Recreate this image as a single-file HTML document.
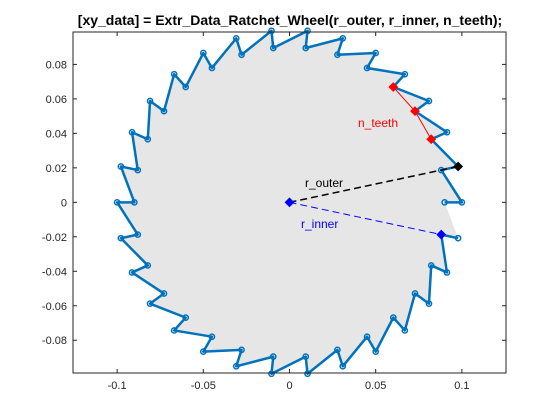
<!DOCTYPE html>
<html><head><meta charset="utf-8"><style>
body{margin:0;background:#fff;}
svg{display:block;font-family:"Liberation Sans",sans-serif;}
</style></head><body>
<svg id="c" width="560" height="420" viewBox="0 0 560 420">
<rect width="560" height="420" fill="#fff"/>
<text x="290" y="25" text-anchor="middle" font-weight="bold" font-size="14" fill="#000">[xy_data] = Extr_Data_Ratchet_Wheel(r_outer, r_inner, n_teeth);</text>
<g id="plot"></g>
</svg>
<script>
const rOuter = [0.1];
const rInner = [0.09];
const nTeeth = [30];
const xTicks = [-0.1, -0.05, 0, 0.05, 0.1];
const xTickLabels = ['-0.1', '-0.05', '0', '0.05', '0.1'];
const yTicks = [-0.08, -0.06, -0.04, -0.02, 0, 0.02, 0.04, 0.06, 0.08];
const yTickLabels = ['-0.08', '-0.06', '-0.04', '-0.02', '0', '0.02', '0.04', '0.06', '0.08'];
const xLim = [-0.1256, 0.1256];
const yLim = [-0.099, 0.0988];

const L=73,R=506,T=32,B=373;
const X=v=>L+(v-xLim[0])/(xLim[1]-xLim[0])*(R-L);
const Y=v=>B-(v-yLim[0])/(yLim[1]-yLim[0])*(B-T);
const NS='http://www.w3.org/2000/svg';
const g=document.getElementById('plot');
function mk(tag,attrs,parent){const e=document.createElementNS(NS,tag);for(const k in attrs)e.setAttribute(k,attrs[k]);(parent||g).appendChild(e);return e;}

// wheel points
const pts=[];
const n=nTeeth[0];
for(let k=0;k<n;k++){
  const a=2*Math.PI*k/n;
  pts.push([rInner[0]*Math.cos(a),rInner[0]*Math.sin(a)]);
  pts.push([rOuter[0]*Math.cos(a),rOuter[0]*Math.sin(a)]);
}
const ptStr=pts.map(p=>X(p[0]).toFixed(2)+','+Y(p[1]).toFixed(2)).join(' ');
const fill=mk('polygon',{points:ptStr,fill:'#e6e6e6',stroke:'none'});


const line=mk('polyline',{points:ptStr,fill:'none',stroke:'#0072BD','stroke-width':2.5,'stroke-linejoin':'round'});


pts.forEach(p=>{
  const c=mk('circle',{cx:X(p[0]),cy:Y(p[1]),r:2.6,fill:'none',stroke:'#0072BD','stroke-width':1.5});
  
  
});

function diamond(x,y,col,name){
  const s=4.2,cx=X(x),cy=Y(y);
  const d=mk('polygon',{points:`${cx},${cy-s} ${cx+s},${cy} ${cx},${cy+s} ${cx-s},${cy}`,fill:col,stroke:col,'stroke-width':1});
  
  
}
const step=2*Math.PI/n;
// r_outer
const ox=rOuter[0]*Math.cos(step), oy=rOuter[0]*Math.sin(step);
const lo=mk('line',{x1:X(0),y1:Y(0),x2:X(ox),y2:Y(oy),stroke:'#000','stroke-width':1.5,'stroke-dasharray':'7,4'});


diamond(ox,oy,'#000','r-outer-marker');
// r_inner
const ix=rInner[0]*Math.cos(-step), iy=rInner[0]*Math.sin(-step);
const li=mk('line',{x1:X(0),y1:Y(0),x2:X(ix),y2:Y(iy),stroke:'#0000ff','stroke-width':1,'stroke-dasharray':'7,4'});


diamond(0,0,'#0000ff','origin-marker');
diamond(ix,iy,'#0000ff','r-inner-marker');
// n_teeth
const tp=[2,3,4].map(k=>[rInner[0]*Math.cos(k*step),rInner[0]*Math.sin(k*step)]);
const tl=mk('polyline',{points:tp.map(p=>X(p[0])+','+Y(p[1])).join(' '),fill:'none',stroke:'#ff0000','stroke-width':1});


tp.forEach(p=>diamond(p[0],p[1],'#ff0000','n-teeth-marker'));

function label(txt,x,y,col,name){
  const t=mk('text',{x:x,y:y,fill:col,'font-size':12});
  t.textContent=txt;
  
  
}
label('n_teeth',358,127,'#ff0000','n-teeth-label');
label('r_outer',305,187,'#000','r-outer-label');
label('r_inner',301,228,'#0000ff','r-inner-label');

// axes box
const box=mk('rect',{x:L,y:T,width:R-L,height:B-T,fill:'none',stroke:'#262626','stroke-width':1});


xTicks.forEach((v,i)=>{
  const x=X(v);
  mk('line',{x1:x,y1:B,x2:x,y2:B-4,stroke:'#262626'});
  mk('line',{x1:x,y1:T,x2:x,y2:T+4,stroke:'#262626'});
  const t=mk('text',{x:x,y:B+16,'text-anchor':'middle','font-size':11,fill:'#262626'});
  t.textContent=xTickLabels[i];
  
  
});
yTicks.forEach((v,i)=>{
  const y=Y(v);
  mk('line',{x1:L,y1:y,x2:L+4,y2:y,stroke:'#262626'});
  mk('line',{x1:R,y1:y,x2:R-4,y2:y,stroke:'#262626'});
  const t=mk('text',{x:L-6,y:y+4,'text-anchor':'end','font-size':11,fill:'#262626'});
  t.textContent=yTickLabels[i];
  
  
});
</script>
</body></html>
